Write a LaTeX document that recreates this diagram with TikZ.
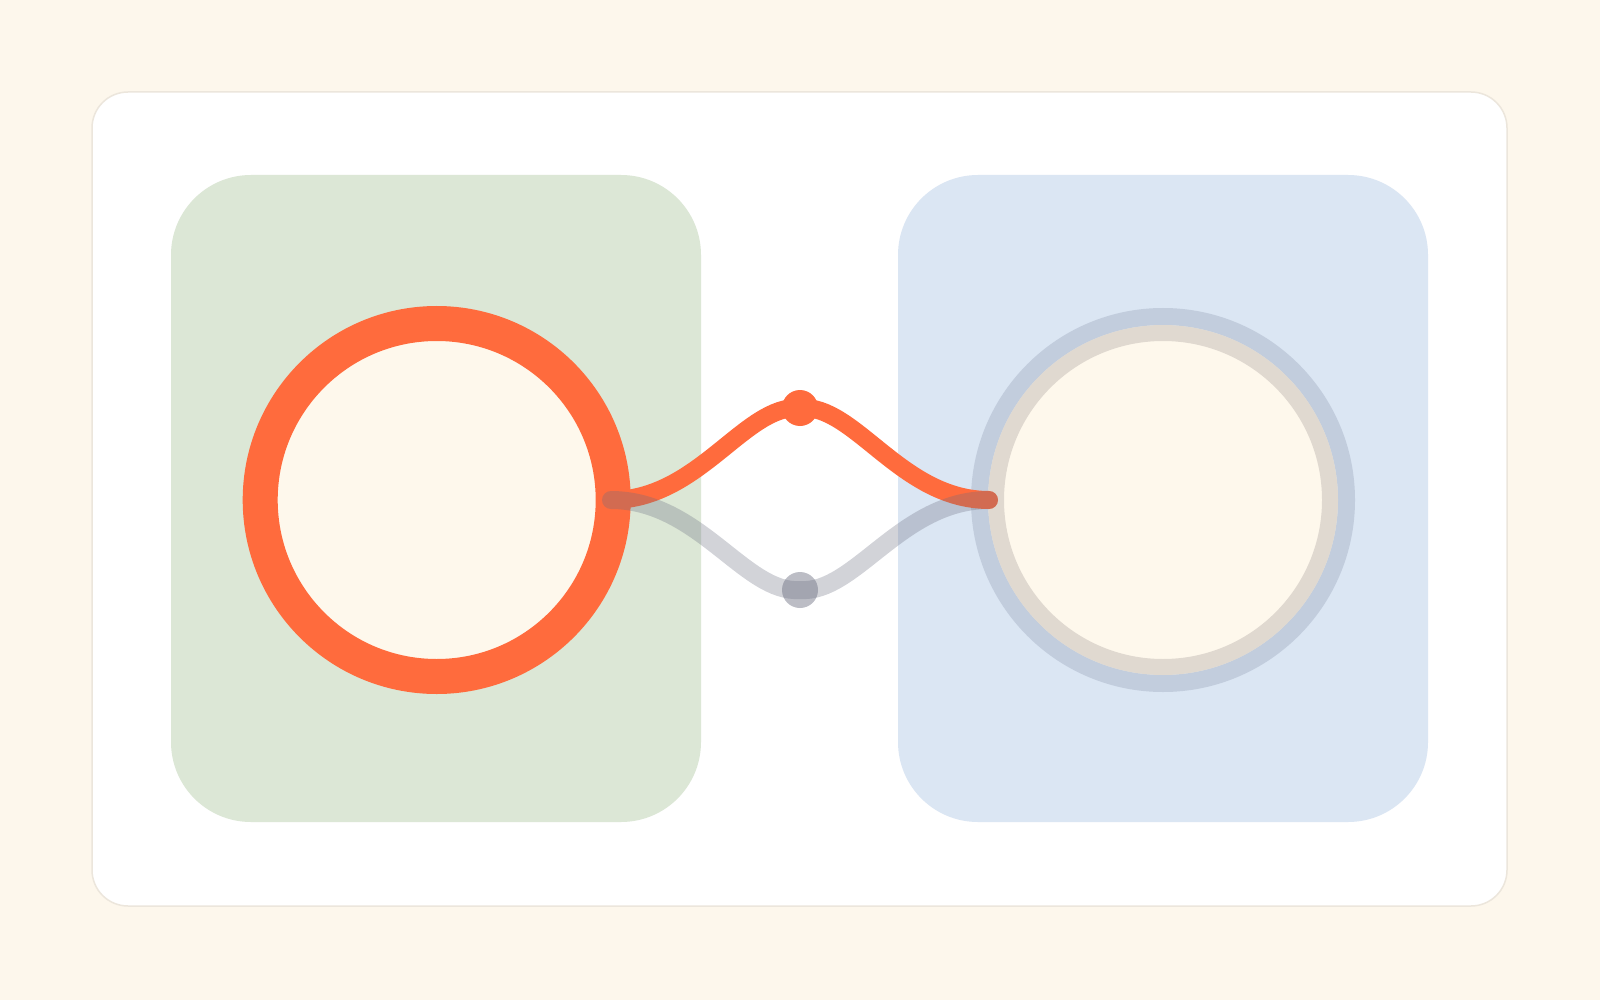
\documentclass[tikz,border=0pt]{standalone}
\usetikzlibrary{calc}
\definecolor{bgcream}{HTML}{FDF7EC}
\definecolor{cardedge}{HTML}{ECE6DC}
\definecolor{greenpanel}{HTML}{DCE7D6}
\definecolor{bluepanel}{HTML}{DBE6F3}
\definecolor{accent}{HTML}{FF6B3D}
\definecolor{innerfill}{HTML}{FEF8EC}
\definecolor{ringblue}{HTML}{C2CDDD}
\definecolor{ringbeige}{HTML}{E0D9D0}
\definecolor{greyline}{HTML}{6B6E80}
\tikzset{
  panel/.style={fill=#1, draw=none, rounded corners=80pt},
  hotline/.style={draw=accent, line width=18pt, line cap=round},
  coldline/.style={draw=greyline, draw opacity=0.3, line width=18pt, line cap=round},
  dotnode/.style={circle, inner sep=0pt, minimum size=36pt, draw=none},
}
\begin{document}
\begin{tikzpicture}[x=1pt,y=-1pt]
  \useasboundingbox (0,0) rectangle (1600,1000);
  \fill[bgcream] (0,0) rectangle (1600,1000);
  % card
  \draw[fill=white, draw=cardedge, line width=1.5pt, rounded corners=36pt] (92,92) rectangle (1507,906);
  % panels
  \fill[panel=greenpanel] (171,175) rectangle (701,822);
  \fill[panel=bluepanel] (898,175) rectangle (1428,822);
  % left circle
  \node[circle, minimum size=353pt, inner sep=0pt, draw=accent, line width=35pt, fill=innerfill] (left) at (436.7,500) {};
  % right circle
  \node[circle, minimum size=367pt, inner sep=0pt, draw=ringblue, line width=17pt] (rightouter) at (1163,500) {};
  \node[circle, minimum size=334pt, inner sep=0pt, draw=ringbeige, line width=16pt, fill=innerfill] (right) at (1163,500) {};
  % connector ends and hubs
  \coordinate (startL) at (611,500);
  \coordinate (endR) at (989,500);
  \node[dotnode] (top) at (800,408) {};
  \node[dotnode] (bottom) at (800,590) {};
  % orange path
  \draw[hotline] (startL) .. controls ($(startL)+(88,0)$) and ($(top.center)+(-55,-4)$) .. (top.center)
                 .. controls ($(top.center)+(55,-4)$) and ($(endR)+(-88,0)$) .. (endR);
  \fill[accent] (top) circle (18pt);
  % grey path
  \draw[coldline] (startL) .. controls ($(startL)+(88,0)$) and ($(bottom.center)+(-55,4)$) .. (bottom.center)
                 .. controls ($(bottom.center)+(55,4)$) and ($(endR)+(-88,0)$) .. (endR);
  \fill[greyline, fill opacity=0.45] (bottom) circle (18pt);
\end{tikzpicture}
\end{document}
